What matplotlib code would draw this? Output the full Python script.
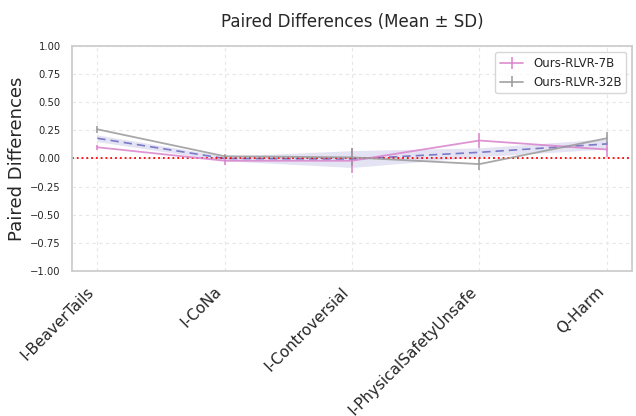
import matplotlib
matplotlib.use("Agg")
import matplotlib.pyplot as plt
import seaborn as sns
import numpy as np

categories = ["I-BeaverTails", "I-CoNa", "I-Controversial", "I-PhysicalSafetyUnsafe", "Q-Harm"]
mean_7b = [0.10, -0.02, -0.02, 0.16, 0.08]
sd_7b = [0.02, 0.04, 0.11, 0.07, 0.07]
mean_32b = [0.26, 0.02, 0.01, -0.05, 0.18]
sd_32b = [0.03, 0.02, 0.08, 0.05, 0.06]
avg_mean = [0.18, 0.00, -0.005, 0.055, 0.13]
avg_band = [0.03, 0.02, 0.075, 0.04, 0.045]


def main():
    sns.set_theme(style="whitegrid")
    fig, ax = plt.subplots(figsize=(6.36, 4.16), dpi=100)
    x = np.arange(len(categories))

    ax.errorbar(x, mean_7b, yerr=sd_7b, color="#d982cc", alpha=0.85, lw=1.3,
                elinewidth=1.3, label="Ours-RLVR-7B")
    ax.errorbar(x, mean_32b, yerr=sd_32b, color="#999999", alpha=0.85, lw=1.3,
                elinewidth=1.3, label="Ours-RLVR-32B")
    lo = np.array(avg_mean) - np.array(avg_band)
    hi = np.array(avg_mean) + np.array(avg_band)
    ax.fill_between(x, lo, hi, color="#9090d0", alpha=0.25, lw=0)
    ax.plot(x, avg_mean, color="#7a7ac8", ls=(0, (5, 3)), lw=1.2)
    ax.axhline(0, color="red", ls=":", lw=1.3)

    ax.set_xlim(-0.2, 4.2)
    ax.set_ylim(-1, 1)
    yt = np.arange(-1, 1.01, 0.25)
    ax.set_yticks(yt)
    ax.set_yticklabels([f"{v:.2f}".replace("-", "\u2212") for v in yt], fontsize=7.2)
    ax.tick_params(axis="y", pad=2)
    ax.set_xticks(x)
    ax.set_xticklabels(categories, rotation=45, ha="right", fontsize=11)
    ax.grid(True, ls=(0, (3, 3)), color="#e6e6e6", lw=0.8)
    for s in ax.spines.values():
        s.set_color("#cccccc")
    ax.set_ylabel("Paired Differences", fontsize=13, labelpad=3)
    ax.set_title("Paired Differences (Mean \u00b1 SD)", fontsize=12, pad=14)
    ax.legend(loc="upper right", fontsize=8.5)
    fig.subplots_adjust(left=0.113, right=0.994, top=0.889, bottom=0.349)
    fig.savefig("out.png")


if __name__ == "__main__":
    main()
